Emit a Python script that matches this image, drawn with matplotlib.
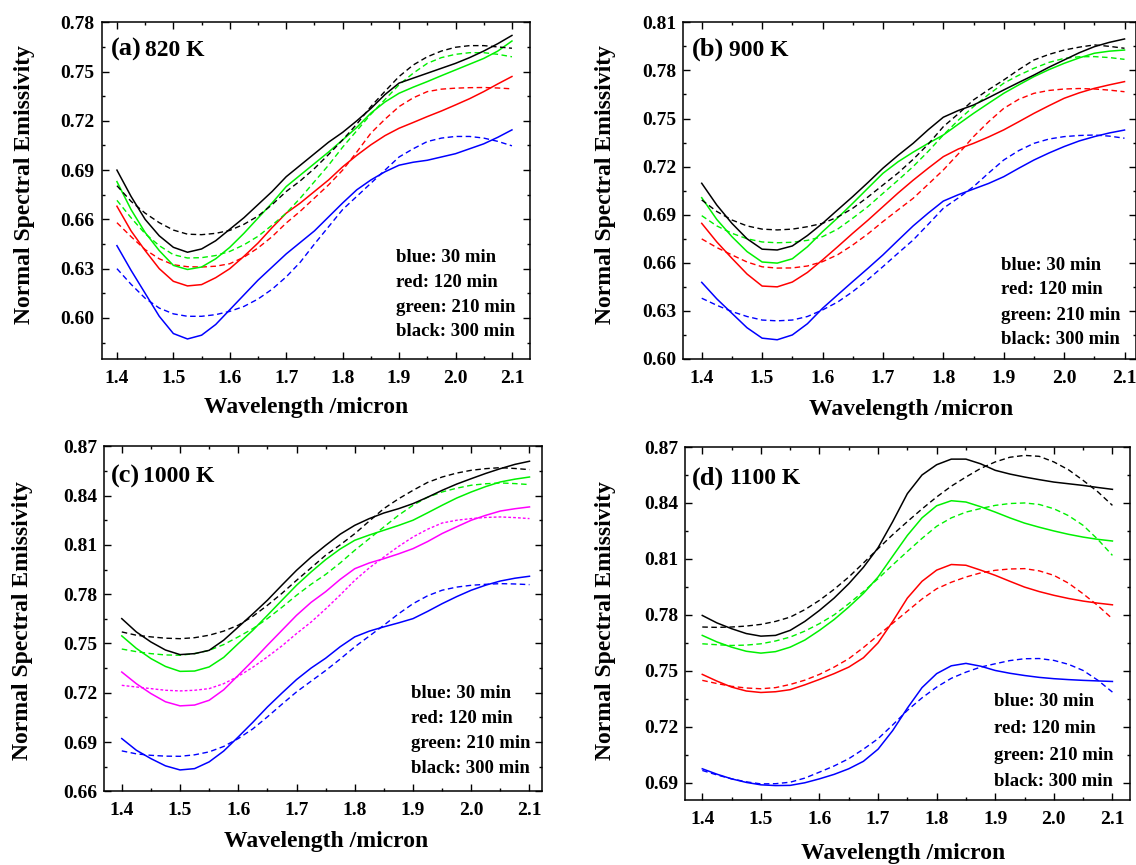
import matplotlib
matplotlib.use("Agg")
import matplotlib.pyplot as plt
from matplotlib.ticker import MultipleLocator, FormatStrFormatter

plt.rcParams['font.family'] = ['Liberation Serif', 'DejaVu Serif']
plt.rcParams['font.weight'] = 'bold'

# ---------------- data ----------------
wavelength = [1.400, 1.425, 1.450, 1.475, 1.500, 1.525, 1.550, 1.575, 1.600, 1.625,
              1.650, 1.675, 1.700, 1.725, 1.750, 1.775, 1.800, 1.825, 1.850, 1.875,
              1.900, 1.925, 1.950, 1.975, 2.000, 2.025, 2.050, 2.075, 2.100]

# (a) 820 K
a_blue_solid = [0.644, 0.629, 0.615, 0.601, 0.5905, 0.5872, 0.5895, 0.596, 0.605, 0.614,
                0.623, 0.631, 0.639, 0.646, 0.653, 0.6615, 0.670, 0.678, 0.684, 0.689,
                0.693, 0.6948, 0.696, 0.698, 0.700, 0.703, 0.706, 0.710, 0.7145]
a_blue_dash = [0.630, 0.6205, 0.612, 0.606, 0.6025, 0.601, 0.601, 0.602, 0.604, 0.607,
               0.6115, 0.6175, 0.625, 0.634, 0.645, 0.6555, 0.666, 0.674, 0.682, 0.690,
               0.698, 0.703, 0.7074, 0.7095, 0.7105, 0.7105, 0.7095, 0.7075, 0.7048]
a_red_solid = [0.668, 0.653, 0.641, 0.630, 0.6223, 0.6195, 0.6203, 0.6245, 0.630, 0.6375,
               0.6456, 0.655, 0.6638, 0.670, 0.677, 0.684, 0.692, 0.699, 0.7054, 0.711,
               0.7155, 0.719, 0.7226, 0.726, 0.7297, 0.7335, 0.7378, 0.7425, 0.747]
a_red_dash = [0.658, 0.6495, 0.6416, 0.636, 0.6324, 0.6312, 0.631, 0.6315, 0.633, 0.637,
              0.6426, 0.6495, 0.6578, 0.665, 0.673, 0.681, 0.690, 0.701, 0.7125, 0.721,
              0.7287, 0.734, 0.7378, 0.7393, 0.7399, 0.7402, 0.7403, 0.740, 0.7395]
a_green_solid = [0.683, 0.666, 0.652, 0.641, 0.632, 0.6295, 0.631, 0.636, 0.643, 0.6515,
                 0.6608, 0.670, 0.680, 0.687, 0.694, 0.701, 0.7084, 0.716, 0.7247, 0.7315,
                 0.7368, 0.7405, 0.7439, 0.7475, 0.751, 0.7545, 0.758, 0.7625, 0.7686]
a_green_dash = [0.6716, 0.661, 0.6513, 0.644, 0.6385, 0.6365, 0.6367, 0.638, 0.6405, 0.6445,
                0.6497, 0.6565, 0.6638, 0.673, 0.683, 0.693, 0.704, 0.714, 0.724, 0.733,
                0.742, 0.749, 0.755, 0.7585, 0.7605, 0.7615, 0.7615, 0.7605, 0.759]
a_black_solid = [0.690, 0.674, 0.660, 0.650, 0.643, 0.640, 0.642, 0.647, 0.654, 0.661,
                 0.669, 0.677, 0.686, 0.693, 0.700, 0.707, 0.713, 0.720, 0.7275, 0.736,
                 0.743, 0.746, 0.749, 0.752, 0.755, 0.7585, 0.7625, 0.767, 0.772]
a_black_dash = [0.6805, 0.671, 0.6638, 0.658, 0.6535, 0.651, 0.6507, 0.6515, 0.6533, 0.657,
                0.662, 0.669, 0.677, 0.6835, 0.691, 0.6995, 0.7084, 0.718, 0.7287, 0.738,
                0.747, 0.754, 0.759, 0.7625, 0.7648, 0.7658, 0.7658, 0.765, 0.7642]

# (b) 900 K
b_blue_solid = [0.6478, 0.6375, 0.6285, 0.6195, 0.613, 0.612, 0.615, 0.622, 0.6316, 0.640,
                0.6483, 0.6565, 0.6649, 0.674, 0.683, 0.691, 0.6985, 0.7025, 0.706, 0.7095,
                0.7137, 0.719, 0.7241, 0.7285, 0.7325, 0.736, 0.7387, 0.741, 0.7428]
b_blue_dash = [0.6379, 0.6335, 0.6296, 0.6265, 0.6243, 0.6238, 0.6243, 0.6265, 0.6306, 0.6355,
               0.642, 0.6495, 0.6576, 0.666, 0.6742, 0.684, 0.694, 0.7005, 0.7075, 0.716,
               0.7241, 0.730, 0.7345, 0.7372, 0.7387, 0.7394, 0.7397, 0.739, 0.7377]
b_red_solid = [0.6846, 0.673, 0.6628, 0.653, 0.6455, 0.645, 0.648, 0.654, 0.6618, 0.670,
               0.6784, 0.6865, 0.695, 0.7035, 0.7115, 0.719, 0.7262, 0.731, 0.7345, 0.7385,
               0.7429, 0.748, 0.7532, 0.758, 0.7626, 0.766, 0.7688, 0.771, 0.773]
b_red_dash = [0.6749, 0.6695, 0.6649, 0.6605, 0.6575, 0.6567, 0.6568, 0.658, 0.6607, 0.665,
              0.6711, 0.678, 0.6857, 0.693, 0.7002, 0.709, 0.7179, 0.728, 0.7387, 0.748,
              0.7563, 0.762, 0.7657, 0.7675, 0.7684, 0.7687, 0.7684, 0.7677, 0.7667]
b_green_solid = [0.7006, 0.687, 0.6763, 0.667, 0.6605, 0.6598, 0.6625, 0.670, 0.6794, 0.688,
                 0.6971, 0.7065, 0.7158, 0.723, 0.729, 0.7345, 0.7397, 0.7465, 0.7532, 0.7595,
                 0.7657, 0.771, 0.7761, 0.7805, 0.7844, 0.7878, 0.7907, 0.792, 0.7927]
b_green_dash = [0.6894, 0.683, 0.6784, 0.675, 0.673, 0.6725, 0.6728, 0.674, 0.6763, 0.681,
                0.6878, 0.695, 0.7033, 0.7115, 0.720, 0.7295, 0.7397, 0.749, 0.7574, 0.765,
                0.772, 0.777, 0.7813, 0.785, 0.7875, 0.7885, 0.7886, 0.788, 0.7869]
b_black_solid = [0.7096, 0.696, 0.6846, 0.675, 0.6685, 0.668, 0.6705, 0.677, 0.6846, 0.693,
                 0.7013, 0.710, 0.719, 0.727, 0.7345, 0.743, 0.7508, 0.755, 0.7584, 0.763,
                 0.7678, 0.7725, 0.7771, 0.782, 0.7865, 0.791, 0.7948, 0.7975, 0.7996]
b_black_dash = [0.6992, 0.692, 0.6867, 0.683, 0.681, 0.6805, 0.681, 0.6825, 0.6846, 0.6885,
                0.694, 0.701, 0.7085, 0.716, 0.7245, 0.734, 0.7449, 0.753, 0.7616, 0.768,
                0.774, 0.7805, 0.7865, 0.790, 0.7927, 0.7945, 0.7959, 0.795, 0.7938]

# (c) 1000 K  (the second series is drawn in magenta)
c_blue_solid = [0.6921, 0.685, 0.6799, 0.6755, 0.673, 0.6738, 0.6779, 0.6845, 0.6931, 0.702,
                0.7113, 0.7198, 0.728, 0.735, 0.741, 0.748, 0.754, 0.7575, 0.7601, 0.7625,
                0.7651, 0.7695, 0.7742, 0.7785, 0.7824, 0.7855, 0.788, 0.7897, 0.7909]
c_blue_dash = [0.6846, 0.6828, 0.6819, 0.6814, 0.6813, 0.6822, 0.684, 0.6873, 0.6921, 0.698,
               0.7053, 0.713, 0.7205, 0.727, 0.7335, 0.7405, 0.7479, 0.7545, 0.7611, 0.768,
               0.7742, 0.779, 0.7824, 0.7843, 0.7854, 0.786, 0.7864, 0.7862, 0.7858]
c_magenta_solid = [0.7326, 0.7255, 0.7195, 0.7145, 0.712, 0.7125, 0.7154, 0.7218, 0.7306, 0.7395,
                   0.7489, 0.758, 0.7671, 0.775, 0.7815, 0.789, 0.7955, 0.799, 0.8016, 0.8045,
                   0.8077, 0.812, 0.8169, 0.821, 0.825, 0.828, 0.8306, 0.832, 0.8331]
c_magenta_dash = [0.7245, 0.7235, 0.7225, 0.7215, 0.7211, 0.7215, 0.7225, 0.7255, 0.730, 0.7355,
                  0.7418, 0.7485, 0.756, 0.763, 0.771, 0.7795, 0.7884, 0.796, 0.8026, 0.809,
                  0.8148, 0.8195, 0.8233, 0.825, 0.826, 0.8267, 0.827, 0.8266, 0.826]
c_green_solid = [0.7546, 0.747, 0.7408, 0.736, 0.733, 0.7332, 0.7357, 0.7415, 0.7499, 0.758,
                 0.7671, 0.7763, 0.7854, 0.7935, 0.801, 0.8075, 0.8128, 0.816, 0.8189, 0.8218,
                 0.825, 0.8295, 0.8341, 0.8385, 0.8422, 0.8455, 0.8483, 0.850, 0.8513]
c_green_dash = [0.7466, 0.745, 0.7438, 0.743, 0.7428, 0.7438, 0.7458, 0.7493, 0.754, 0.759,
                0.7651, 0.772, 0.7793, 0.786, 0.792, 0.799, 0.8067, 0.8138, 0.8209, 0.828,
                0.8341, 0.839, 0.8422, 0.8445, 0.8463, 0.8472, 0.8477, 0.8473, 0.8467]
c_black_solid = [0.7651, 0.757, 0.7509, 0.746, 0.7432, 0.7438, 0.7458, 0.752, 0.760, 0.768,
                 0.7763, 0.7855, 0.7945, 0.8025, 0.8097, 0.8165, 0.8219, 0.826, 0.8294, 0.832,
                 0.8351, 0.839, 0.8432, 0.847, 0.8503, 0.8535, 0.8564, 0.859, 0.8609]
c_black_dash = [0.757, 0.755, 0.754, 0.7532, 0.7529, 0.7535, 0.755, 0.7575, 0.7611, 0.7665,
                0.7732, 0.7805, 0.7884, 0.796, 0.8037, 0.810, 0.8168, 0.8245, 0.8321, 0.838,
                0.8432, 0.848, 0.8513, 0.8537, 0.8554, 0.8564, 0.857, 0.8565, 0.8558]

# (d) 1100 K
d_blue_solid = [0.6975, 0.6946, 0.6921, 0.6902, 0.6889, 0.6885, 0.6886, 0.690, 0.6921, 0.6945,
                0.6975, 0.7015, 0.708, 0.718, 0.730, 0.741, 0.7485, 0.7527, 0.754, 0.7525,
                0.7502, 0.7487, 0.7475, 0.7465, 0.7458, 0.7453, 0.7449, 0.7446, 0.7443]
d_blue_dash = [0.6966, 0.6942, 0.6921, 0.6905, 0.6894, 0.6895, 0.6903, 0.6925, 0.6957, 0.699,
               0.7029, 0.708, 0.7136, 0.721, 0.7288, 0.7355, 0.7413, 0.746, 0.7493, 0.752,
               0.7538, 0.7555, 0.7565, 0.7566, 0.7556, 0.7535, 0.7502, 0.745, 0.7386]
d_red_solid = [0.7481, 0.7445, 0.7413, 0.7392, 0.7384, 0.7388, 0.7399, 0.7425, 0.7454, 0.7485,
               0.752, 0.757, 0.765, 0.7765, 0.789, 0.798, 0.804, 0.807, 0.8066, 0.804,
               0.8012, 0.798, 0.7949, 0.7925, 0.7905, 0.7888, 0.7874, 0.7863, 0.7854]
d_red_dash = [0.7449, 0.7432, 0.7417, 0.7408, 0.7404, 0.741, 0.7427, 0.745, 0.7481, 0.752,
              0.7565, 0.7625, 0.769, 0.7755, 0.782, 0.7885, 0.794, 0.7975, 0.8003, 0.8025,
              0.8039, 0.8046, 0.8048, 0.8036, 0.8012, 0.797, 0.7913, 0.785, 0.7779]
d_green_solid = [0.769, 0.7655, 0.7627, 0.7605, 0.7595, 0.7603, 0.7627, 0.7665, 0.7717, 0.7775,
                 0.7842, 0.7915, 0.8003, 0.8115, 0.8226, 0.832, 0.8385, 0.8412, 0.8405, 0.838,
                 0.8351, 0.832, 0.8292, 0.827, 0.825, 0.8232, 0.8217, 0.8205, 0.8196]
d_green_dash = [0.7645, 0.764, 0.7636, 0.7638, 0.7645, 0.766, 0.7681, 0.7713, 0.7753, 0.780,
                0.786, 0.7925, 0.7994, 0.8068, 0.814, 0.821, 0.8275, 0.832, 0.8351, 0.837,
                0.8387, 0.8397, 0.840, 0.8392, 0.8369, 0.8332, 0.828, 0.8205, 0.8119]
d_black_solid = [0.7797, 0.7757, 0.7726, 0.770, 0.7686, 0.769, 0.7717, 0.7765, 0.7824, 0.789,
                 0.7967, 0.8055, 0.816, 0.830, 0.845, 0.855, 0.8605, 0.8635, 0.8635, 0.861,
                 0.8575, 0.8555, 0.8539, 0.8525, 0.8512, 0.8503, 0.8494, 0.8483, 0.8473]
d_black_dash = [0.7735, 0.7733, 0.7735, 0.774, 0.7749, 0.7765, 0.7788, 0.7828, 0.7878, 0.7937,
                0.8003, 0.8078, 0.8155, 0.823, 0.830, 0.8368, 0.8432, 0.849, 0.8539, 0.8585,
                0.862, 0.8645, 0.8655, 0.865, 0.862, 0.8578, 0.8521, 0.846, 0.8387]

panel_letters = ["(a)", "(b)", "(c)", "(d)"]
panel_temps = ["820 K", "900 K", "1000 K", "1100 K"]
legend_lines = ["blue: 30 min", "red: 120 min", "green: 210 min", "black: 300 min"]
x_label = "Wavelength /micron"
y_label = "Normal Spectral Emissivity"

# ---------------- figure ----------------
W, H = 1136, 865
fig = plt.figure(figsize=(W / 100, H / 100), dpi=100)

def box(l, t, r, b):
    return [l / W, 1 - b / H, (r - l) / W, (b - t) / H]

BLUE, RED, GREEN, BLACK, MAGENTA = '#0000FF', '#FF0000', '#00F000', '#000000', '#FF00FF'

panels = [
    dict(rect=box(101.7, 22.3, 530, 359), xlim=(1.373, 2.132), ylim=(0.575, 0.78),
         series=[(a_blue_solid, a_blue_dash, BLUE), (a_red_solid, a_red_dash, RED),
                 (a_green_solid, a_green_dash, GREEN), (a_black_solid, a_black_dash, BLACK)],
         ylab=(25, 184), xlab=(306, 408), ann=(396, [258, 282.5, 307, 331.5]),
         title=(111, 145, 49)),
    dict(rect=box(683.3, 22.3, 1136, 359), xlim=(1.3695, 2.119), ylim=(0.60, 0.81),
         series=[(b_blue_solid, b_blue_dash, BLUE), (b_red_solid, b_red_dash, RED),
                 (b_green_solid, b_green_dash, GREEN), (b_black_solid, b_black_dash, BLACK)],
         ylab=(605, 184), xlab=(911, 410), ann=(1001, [265, 290, 315, 340]),
         title=(692, 729, 49)),
    dict(rect=box(104.3, 446.3, 542.3, 791.3), xlim=(1.370, 2.122), ylim=(0.66, 0.87),
         series=[(c_blue_solid, c_blue_dash, BLUE), (c_magenta_solid, c_magenta_dash, MAGENTA),
                 (c_green_solid, c_green_dash, GREEN), (c_black_solid, c_black_dash, BLACK)],
         ylab=(23, 620), xlab=(326, 842), ann=(411, [694, 718.5, 743.5, 768.5]),
         title=(111, 143, 476)),
    dict(rect=box(685, 447, 1130, 800.3), xlim=(1.3705, 2.130), ylim=(0.6806, 0.87),
         series=[(d_blue_solid, d_blue_dash, BLUE), (d_red_solid, d_red_dash, RED),
                 (d_green_solid, d_green_dash, GREEN), (d_black_solid, d_black_dash, BLACK)],
         ylab=(605, 620), xlab=(903, 853), ann=(994, [702, 728.5, 755, 781.5]),
         title=(692, 730, 478)),
]

for i, p in enumerate(panels):
    ax = fig.add_axes(p['rect'])
    for solid, dash, col in p['series']:
        ax.plot(wavelength, solid, color=col, lw=1.1, solid_joinstyle='round')
        if col == MAGENTA:
            ax.plot(wavelength, dash, color=col, lw=1.0, dashes=(2, 1.5))
        else:
            ax.plot(wavelength, dash, color=col, lw=1.0, dashes=(4, 2.5))
    ax.set_xlim(*p['xlim'])
    ax.set_ylim(*p['ylim'])
    ax.xaxis.set_major_locator(MultipleLocator(0.1))
    ax.xaxis.set_minor_locator(MultipleLocator(0.05))
    ax.yaxis.set_major_locator(MultipleLocator(0.03))
    ax.yaxis.set_minor_locator(MultipleLocator(0.015))
    ax.xaxis.set_major_formatter(FormatStrFormatter('%.1f'))
    ax.yaxis.set_major_formatter(FormatStrFormatter('%.2f'))
    ax.tick_params(which='both', direction='in', top=True, right=True, width=1.0)
    ax.tick_params(which='major', length=5)
    ax.tick_params(which='minor', length=2.5)
    ax.tick_params(axis='x', which='major', pad=8, labelsize=14)
    ax.tick_params(axis='y', which='major', pad=5, labelsize=14)
    for lab in ax.get_xticklabels() + ax.get_yticklabels():
        lab.set_fontweight('bold')
    for s in ax.spines.values():
        s.set_linewidth(1.1)

    lx0, tx0, ty = p['title']
    fig.text(lx0 / W, 1 - ty / H, panel_letters[i], fontsize=19, fontweight='bold',
             ha='left', va='center')
    fig.text(tx0 / W, 1 - (ty + 1) / H, panel_temps[i], fontsize=17, fontweight='bold',
             ha='left', va='center')
    ax_x, ys = p['ann']
    for line, yy in zip(legend_lines, ys):
        fig.text(ax_x / W, 1 - yy / H, line, fontsize=13.5, fontweight='bold',
                 ha='left', va='center')
    lx, ly = p['ylab']
    fig.text(lx / W, 1 - ly / H, y_label, rotation=90, fontsize=17, fontweight='bold',
             ha='center', va='center')
    xx, xy = p['xlab']
    fig.text(xx / W, 1 - xy / H, x_label, fontsize=17, fontweight='bold',
             ha='center', va='center')

fig.savefig('out.png', dpi=100)
